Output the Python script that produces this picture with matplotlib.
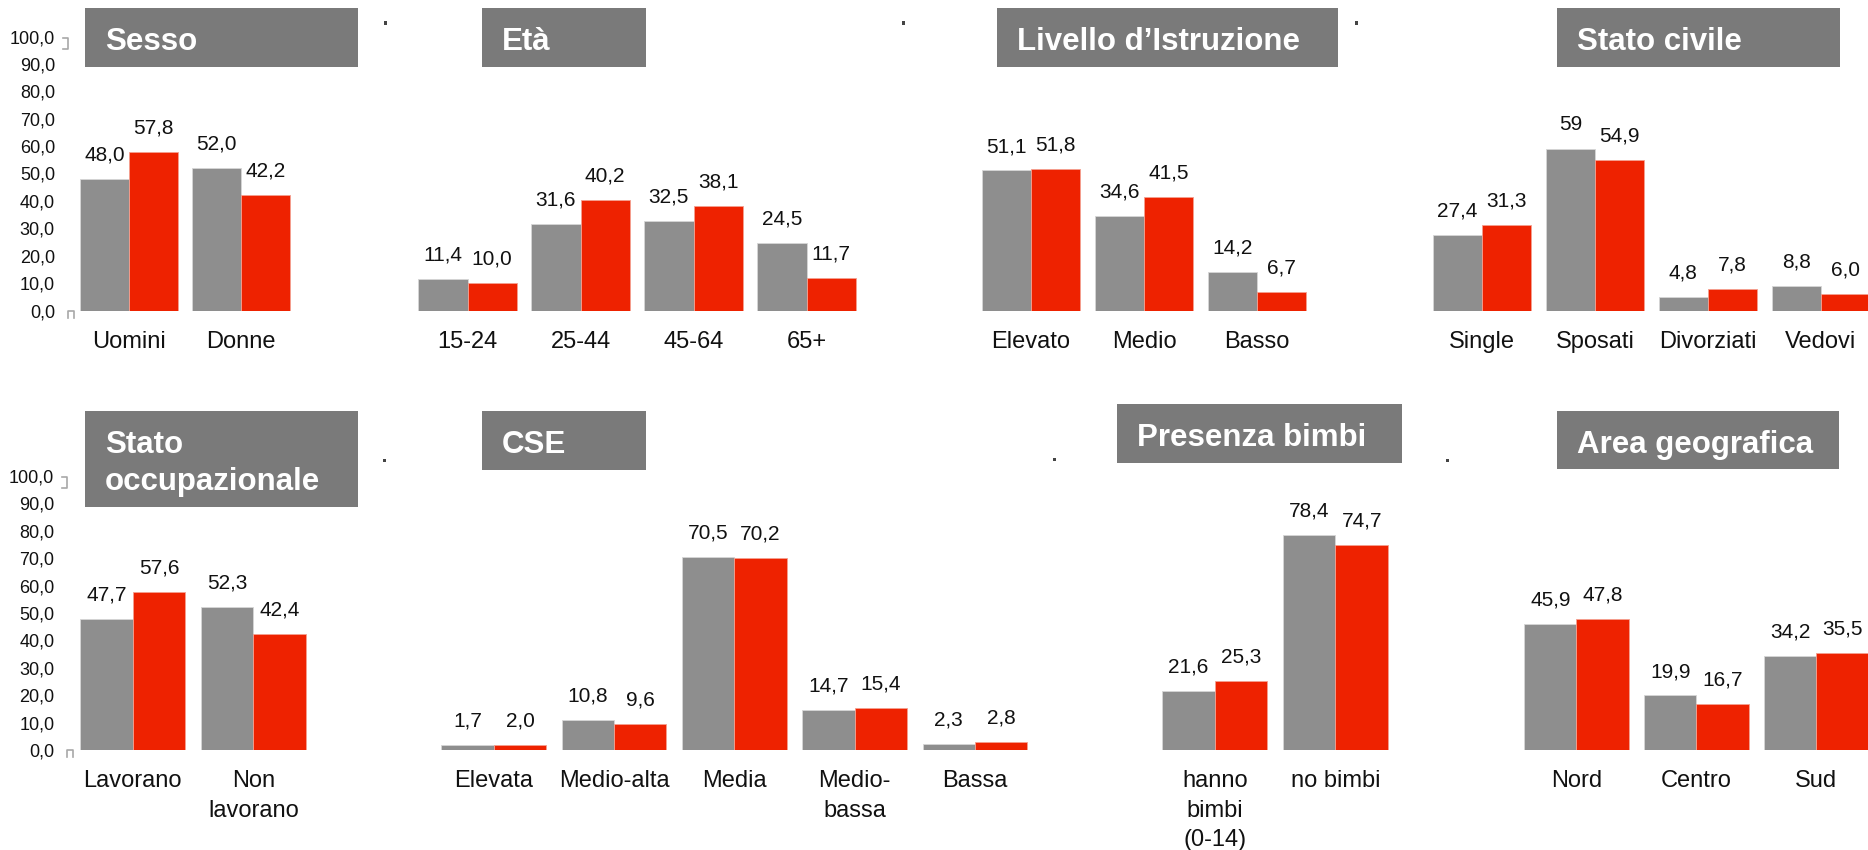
import matplotlib
matplotlib.use("Agg")
import matplotlib.pyplot as plt
from matplotlib.patches import Rectangle
from matplotlib.lines import Line2D
import numpy as np

plt.rcParams["font.family"] = ["Liberation Sans", "DejaVu Sans"]

# %% data ---------------------------------------------------------------------
sesso_cat = ["Uomini", "Donne"]
sesso_grey = [48.0, 52.0]
sesso_red = [57.8, 42.2]

eta_cat = ["15-24", "25-44", "45-64", "65+"]
eta_grey = [11.4, 31.6, 32.5, 24.5]
eta_red = [10.0, 40.2, 38.1, 11.7]

istr_cat = ["Elevato", "Medio", "Basso"]
istr_grey = [51.1, 34.6, 14.2]
istr_red = [51.8, 41.5, 6.7]

civile_cat = ["Single", "Sposati", "Divorziati", "Vedovi"]
civile_grey = [27.4, 59, 4.8, 8.8]   # "59" is shown without decimals
civile_red = [31.3, 54.9, 7.8, 6.0]

occ_cat = ["Lavorano", "Non\nlavorano"]
occ_grey = [47.7, 52.3]
occ_red = [57.6, 42.4]

cse_cat = ["Elevata", "Medio-alta", "Media", "Medio-\nbassa", "Bassa"]
cse_grey = [1.7, 10.8, 70.5, 14.7, 2.3]
cse_red = [2.0, 9.6, 70.2, 15.4, 2.8]

bimbi_cat = ["hanno\nbimbi\n(0-14)", "no bimbi"]
bimbi_grey = [21.6, 78.4]
bimbi_red = [25.3, 74.7]

area_cat = ["Nord", "Centro", "Sud"]
area_grey = [45.9, 19.9, 34.2]
area_red = [47.8, 16.7, 35.5]

yticks = [0, 10, 20, 30, 40, 50, 60, 70, 80, 90, 100]

# %% styling ------------------------------------------------------------------
W, H = 1868, 850
GREY = "#8e8e8e"
RED = "#ee2200"
BOX = "#7a7a7a"
BAR_W = 0.435


def fx(x):
    return x / W


def fy(y):
    return 1 - y / H


def fmt(v):
    if isinstance(v, int):
        return str(v)
    return f"{v:.1f}".replace(".", ",")


fig = plt.figure(figsize=(W / 100, H / 100), dpi=100)

# (title lines, cats, grey, red, first-centre px, spacing px, baseline px, box px, y labels)
panels = [
    (["Sesso"], sesso_cat, sesso_grey, sesso_red, 129, 112, 310.5, (85, 8, 358, 67), True),
    (["Età"], eta_cat, eta_grey, eta_red, 467.5, 113, 310.5, (482, 8, 645.5, 67), False),
    (["Livello d\u2019Istruzione"], istr_cat, istr_grey, istr_red, 1031, 113, 310.5, (997, 8, 1338, 67), False),
    (["Stato civile"], civile_cat, civile_grey, civile_red, 1482, 113, 310.5, (1557, 8, 1840, 67), False),
    (["Stato", "occupazionale"], occ_cat, occ_grey, occ_red, 132.7, 120.6, 750, (85, 411, 358, 507), True),
    (["CSE"], cse_cat, cse_grey, cse_red, 493.8, 120.3, 750, (482, 411, 646, 470), False),
    (["Presenza bimbi"], bimbi_cat, bimbi_grey, bimbi_red, 1214.8, 120.6, 750, (1117, 404, 1402, 463), False),
    (["Area geografica"], area_cat, area_grey, area_red, 1576.4, 120, 750, (1557, 411, 1839, 469), False),
]

for title, cats, grey, red, c0, sp, base, box, show_y in panels:
    n = len(cats)
    left = c0 - 0.5 * sp
    ax = fig.add_axes([fx(left), fy(base), fx(n * sp), 274 / H])
    x = np.arange(n)
    b1 = ax.bar(x - BAR_W / 2, grey, BAR_W, color=GREY, edgecolor="#d6d6d6", linewidth=0.6)
    b2 = ax.bar(x + BAR_W / 2, red, BAR_W, color=RED, edgecolor="#f4a090", linewidth=0.6)
    for bars, vals in ((b1, grey), (b2, red)):
        for r, v in zip(bars, vals):
            ax.annotate(fmt(v), (r.get_x() + r.get_width() / 2, v),
                        xytext=(0, 13.3), textcoords="offset points",
                        ha="center", va="baseline", fontsize=15, color="#111111")
    ax.set_xlim(-0.5, n - 0.5)
    ax.set_ylim(0, 100)
    ax.set_xticks(x)
    ax.set_xticklabels(cats, fontsize=17, color="#111111", linespacing=1.45)
    ax.tick_params(axis="x", length=0, pad=14.5)
    if show_y:
        ax.set_yticks(yticks)
        ax.set_yticklabels([f"{t},0" for t in yticks], fontsize=13, color="#111111")
        ax.tick_params(axis="y", length=0, pad=13)
        # small broken-axis brackets
        xl = left - 5
        fig.add_artist(Line2D([fx(xl - 5), fx(xl), fx(xl), fx(xl - 5)],
                              [fy(base - 273), fy(base - 273), fy(base - 262), fy(base - 262)],
                              color="#a8a8a8", lw=1.2))
        fig.add_artist(Line2D([fx(xl), fx(xl), fx(xl + 6), fx(xl + 6)],
                              [fy(base + 7), fy(base), fy(base), fy(base + 7)],
                              color="#a8a8a8", lw=1.2))
    else:
        ax.set_yticks([])
    for s in ax.spines.values():
        s.set_visible(False)

    # grey title box
    x0, y0, x1, y1 = box
    fig.add_artist(Rectangle((fx(x0), fy(y1)), fx(x1 - x0), (y1 - y0) / H,
                             facecolor=BOX, edgecolor="none"))
    for i, line in enumerate(title):
        fig.text(fx(x0 + 20), fy(y0 + 42 + i * 36.6), line, color="white",
                 fontsize=22.5, fontweight="bold", ha="left", va="baseline")

# stray dots from the original slide
for dx, dy in [(385, 23), (903, 23), (1356, 23), (384, 461), (1054, 459), (1447, 461)]:
    fig.add_artist(Rectangle((fx(dx - 1.5), fy(dy + 1.5)), fx(3), 3 / H,
                             facecolor="#444444", edgecolor="none"))

fig.savefig("out.png", dpi=100)
